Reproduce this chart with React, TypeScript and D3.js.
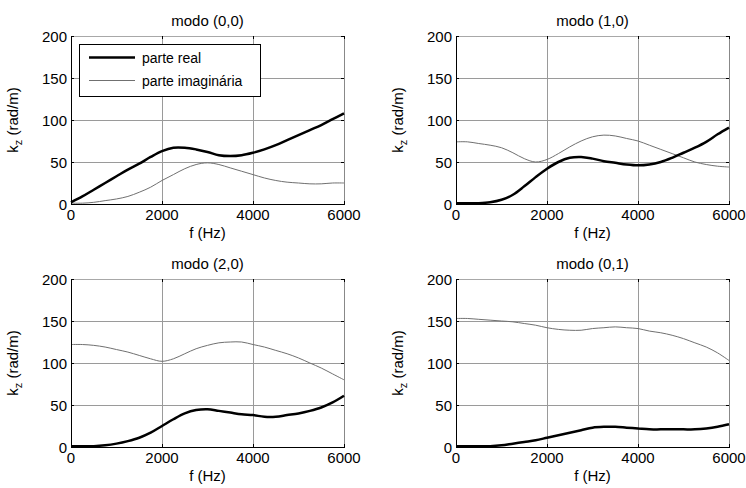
import React, { useEffect, useRef } from 'react';
import * as d3 from 'd3';

// frequency samples (Hz)
const freq = [0, 250, 500, 750, 1000, 1250, 1500, 1750, 2000, 2250, 2500, 2750, 3000,
  3250, 3500, 3750, 4000, 4250, 4500, 4750, 5000, 5250, 5500, 5750, 6000];

// modo (0,0)
const real00 = [2, 9, 17, 25, 33, 41, 48, 56, 63, 67, 67, 65, 62, 58, 57, 58, 61, 65, 70, 76, 82, 88, 94, 101, 108];
const imag00 = [1, 1, 2, 4, 6, 9, 14, 20, 28, 35, 42, 47, 49, 47, 43, 39, 35, 31, 28, 26, 25, 24, 24, 25, 25];
// modo (1,0)
const real10 = [1, 1, 1, 2, 5, 11, 21, 32, 42, 50, 55, 56, 54, 51, 49, 47, 46, 47, 50, 55, 61, 67, 74, 83, 91];
const imag10 = [74, 74, 72, 70, 67, 61, 54, 50, 53, 60, 68, 75, 80, 82, 81, 78, 75, 70, 65, 60, 55, 50, 47, 45, 44];
// modo (2,0)
const real20 = [1, 1, 1, 2, 4, 7, 11, 17, 25, 33, 40, 44, 45, 43, 41, 39, 38, 36, 36, 38, 40, 43, 47, 53, 61];
const imag20 = [122, 122, 121, 119, 116, 113, 109, 105, 102, 105, 111, 117, 121, 124, 125, 125, 122, 119, 115, 111, 106, 100, 94, 87, 80];
// modo (0,1)
const real01 = [1, 1, 1, 1, 2, 4, 6, 8, 11, 14, 17, 20, 23, 24, 24, 23, 22, 21, 21, 21, 21, 21, 22, 24, 27];
const imag01 = [153, 153, 152, 151, 150, 149, 147, 145, 142, 140, 139, 139, 141, 142, 143, 142, 141, 138, 136, 133, 129, 124, 119, 112, 103];

const titles = ['modo (0,0)', 'modo (1,0)', 'modo (2,0)', 'modo (0,1)'];
const xTicks = [0, 2000, 4000, 6000];
const yTicks = [0, 50, 100, 150, 200];
const legendLabels = ['parte real', 'parte imaginária'];

const panels = [
  { title: titles[0], real: real00, imag: imag00, x: 71, y: 36 },
  { title: titles[1], real: real10, imag: imag10, x: 456, y: 36 },
  { title: titles[2], real: real20, imag: imag20, x: 71, y: 279 },
  { title: titles[3], real: real01, imag: imag01, x: 456, y: 279 },
];

const App = () => {
  const ref = useRef(null);

  useEffect(() => {
    const width = 746;
    const height = 488;
    const pw = 273;
    const ph = 168;
    const fs = 15;

    const svg = d3
      .select(ref.current)
      .append('svg')
      .attr('width', width)
      .attr('height', height)
      .style('position', 'absolute')
      .style('left', 0)
      .style('top', 0)
      .style('background', '#fff')
      .style('font-family', 'Liberation Sans, Arial, sans-serif');

    const x = d3.scaleLinear().domain([0, 6000]).range([0, pw]);
    const y = d3.scaleLinear().domain([0, 200]).range([ph, 0]);
    const line = d3
      .line()
      .x((d) => x(d[0]))
      .y((d) => y(d[1]))
      .curve(d3.curveCatmullRom);

    panels.forEach((p, pi) => {
      const g = svg.append('g').attr('transform', `translate(${p.x},${p.y})`);

      // grid
      g.selectAll('.gx')
        .data(xTicks.slice(1, -1))
        .enter()
        .append('line')
        .attr('x1', (d) => x(d) + 0.5)
        .attr('x2', (d) => x(d) + 0.5)
        .attr('y1', 0)
        .attr('y2', ph)
        .attr('stroke', '#9a9a9a');
      g.selectAll('.gy')
        .data(yTicks.slice(1, -1))
        .enter()
        .append('line')
        .attr('x1', 0)
        .attr('x2', pw)
        .attr('y1', (d) => y(d) + 0.5)
        .attr('y2', (d) => y(d) + 0.5)
        .attr('stroke', '#9a9a9a');

      // top / right box edges
      g.append('line').attr('x1', 0).attr('x2', pw).attr('y1', 0.5).attr('y2', 0.5).attr('stroke', '#a8a8a8');
      g.append('line').attr('x1', pw + 0.5).attr('x2', pw + 0.5).attr('y1', 0).attr('y2', ph).attr('stroke', '#888');

      // curves
      g.append('path')
        .datum(freq.map((f, i) => [f, p.imag[i]]))
        .attr('d', line)
        .attr('fill', 'none')
        .attr('stroke', '#707070')
        .attr('stroke-width', 1);
      g.append('path')
        .datum(freq.map((f, i) => [f, p.real[i]]))
        .attr('d', line)
        .attr('fill', 'none')
        .attr('stroke', '#000')
        .attr('stroke-width', 2.5);

      // left / bottom axes
      g.append('line').attr('x1', 0.5).attr('x2', 0.5).attr('y1', 0).attr('y2', ph + 0.5).attr('stroke', '#000');
      g.append('line').attr('x1', 0).attr('x2', pw + 1).attr('y1', ph + 0.5).attr('y2', ph + 0.5).attr('stroke', '#000');

      // ticks (inside, all four sides)
      xTicks.forEach((t) => {
        const xx = Math.min(x(t), pw) + 0.5;
        g.append('line').attr('x1', xx).attr('x2', xx).attr('y1', ph).attr('y2', ph - 3).attr('stroke', '#000');
        g.append('line').attr('x1', xx).attr('x2', xx).attr('y1', 0).attr('y2', 3).attr('stroke', '#000');
        g.append('text')
          .attr('x', x(t))
          .attr('y', ph + 16)
          .attr('text-anchor', 'middle')
          .attr('font-size', fs)
          .text(t);
      });
      yTicks.forEach((t) => {
        const yy = y(t) + 0.5;
        g.append('line').attr('x1', 0).attr('x2', 3).attr('y1', yy).attr('y2', yy).attr('stroke', '#000');
        g.append('line').attr('x1', pw).attr('x2', pw - 3).attr('y1', yy).attr('y2', yy).attr('stroke', '#000');
        g.append('text')
          .attr('x', -4)
          .attr('y', y(t) + 5.5)
          .attr('text-anchor', 'end')
          .attr('font-size', fs)
          .text(t);
      });

      // title and labels
      g.append('text')
        .attr('x', pw / 2)
        .attr('y', -10)
        .attr('text-anchor', 'middle')
        .attr('font-size', fs)
        .text(p.title);
      g.append('text')
        .attr('x', pw / 2)
        .attr('y', ph + 34)
        .attr('text-anchor', 'middle')
        .attr('font-size', fs)
        .text('f (Hz)');
      const yl = g
        .append('text')
        .attr('transform', `translate(${-53},${ph / 2}) rotate(-90)`)
        .attr('text-anchor', 'middle')
        .attr('font-size', fs);
      yl.append('tspan').text('k');
      yl.append('tspan').attr('font-size', 11).attr('dy', 4).text('z');
      yl.append('tspan').attr('dy', -4).text(' (rad/m)');

      // legend in the first panel
      if (pi === 0) {
        const lg = g.append('g').attr('transform', 'translate(8,8)');
        lg.append('rect')
          .attr('x', 0.5)
          .attr('y', 0.5)
          .attr('width', 181)
          .attr('height', 52)
          .attr('fill', '#fff')
          .attr('stroke', '#000');
        legendLabels.forEach((lab, i) => {
          const ly = 13.5 + i * 23;
          lg.append('line')
            .attr('x1', 10)
            .attr('x2', 56)
            .attr('y1', ly)
            .attr('y2', ly)
            .attr('stroke', i === 0 ? '#000' : '#707070')
            .attr('stroke-width', i === 0 ? 2.5 : 1);
          lg.append('text')
            .attr('x', 63)
            .attr('y', ly + 5)
            .attr('font-size', 14)
            .text(lab);
        });
      }
    });

    return () => {
      d3.select(ref.current).selectAll('*').remove();
    };
  }, []);

  return <div ref={ref}></div>;
};

export default App;
